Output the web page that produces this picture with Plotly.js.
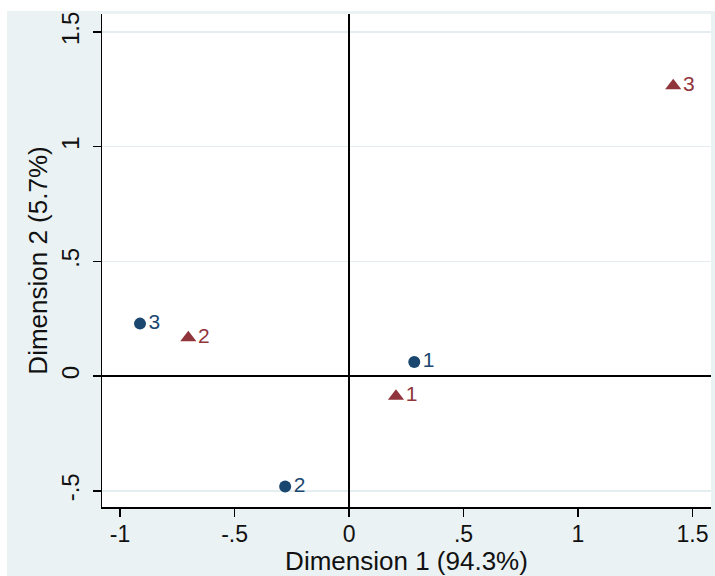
<!DOCTYPE html>
<html>
<head>
<meta charset="utf-8">
<script src="https://cdn.plot.ly/plotly-3.0.1.min.js"></script>
<style>html,body{margin:0;padding:0;background:#fff;}#chart{width:715px;height:576px;}</style>
</head>
<body>
<div id="chart"></div>
<script>
// Row categories (blue circles)
var rowLabels = ["1", "2", "3"];
var rowDim1 = [0.285, -0.279, -0.913];
var rowDim2 = [0.062, -0.481, 0.229];
// Column categories (red triangles)
var colLabels = ["1", "2", "3"];
var colDim1 = [0.205, -0.702, 1.416];
var colDim2 = [-0.087, 0.167, 1.265];
// Tick labels
var xTickVals = [-1, -0.5, 0, 0.5, 1, 1.5];
var xTickText = ["-1", "-.5", "0", ".5", "1", "1.5"];
var yTickVals = [-0.5, 0, 0.5, 1, 1.5];
var yTickText = ["-.5", "0", ".5", "1", "1.5"];

var blue = "#1a476f", red = "#90353b";
var font = "Liberation Sans, Arial, sans-serif";

var traces = [
  {
    x: rowDim1, y: rowDim2, text: rowLabels, type: "scatter", mode: "markers+text",
    marker: {symbol: "circle", size: 12, color: blue},
    textposition: "middle right",
    textfont: {family: font, size: 21, color: blue},
    hoverinfo: "none", cliponaxis: false
  },
  {
    x: colDim1, y: colDim2, text: colLabels, type: "scatter", mode: "markers+text",
    marker: {symbol: "triangle-up", size: 14, color: red},
    textposition: "middle right",
    textfont: {family: font, size: 21, color: red},
    hoverinfo: "none", cliponaxis: false
  }
];

var layout = {
  width: 715, height: 576,
  margin: {l: 102, r: 4, t: 14, b: 69},
  paper_bgcolor: "#eaf2f3",
  plot_bgcolor: "#ffffff",
  showlegend: false,
  font: {family: font, size: 24, color: "#111111"},
  xaxis: {
    range: [-1.079, 1.581],
    tickmode: "array", tickvals: xTickVals, ticktext: xTickText,
    ticks: "outside", ticklen: 8, tickwidth: 1.5, tickcolor: "#000",
    ticklabelstandoff: -2,
    showline: true, linecolor: "#000", linewidth: 1.5, mirror: false,
    showgrid: false,
    zeroline: true, zerolinecolor: "#000", zerolinewidth: 1.5,
    tickfont: {family: font, size: 23, color: "#111"},
    title: {text: "Dimension 1 (94.3%)", font: {family: font, size: 26, color: "#111"}, standoff: 2}
  },
  yaxis: {
    range: [-0.570, 1.578],
    tickmode: "array", tickvals: yTickVals, ticktext: yTickText,
    ticks: "outside", ticklen: 8, tickwidth: 1.5, tickcolor: "#000",
    tickangle: -90, ticklabelstandoff: 4,
    showline: true, linecolor: "#000", linewidth: 1.5, mirror: false,
    showgrid: true, gridcolor: "#e4eef0", gridwidth: 1.5,
    zeroline: true, zerolinecolor: "#000", zerolinewidth: 1.5,
    tickfont: {family: font, size: 24, color: "#111"},
    title: {text: "Dimension 2 (5.7%)", font: {family: font, size: 26, color: "#111"}, standoff: 2}
  },
  shapes: [
    {type: "rect", xref: "paper", yref: "paper", x0: -0.3, x1: 1.2, y0: 1.0061, y1: 1.1, fillcolor: "#ffffff", line: {width: 0}, layer: "above"},
    {type: "rect", xref: "paper", yref: "paper", x0: -0.3, x1: -0.156, y0: -0.3, y1: 1.1, fillcolor: "#ffffff", line: {width: 0}, layer: "above"}
  ]
};

Plotly.newPlot("chart", traces, layout, {displayModeBar: false, staticPlot: true});
</script>
</body>
</html>
